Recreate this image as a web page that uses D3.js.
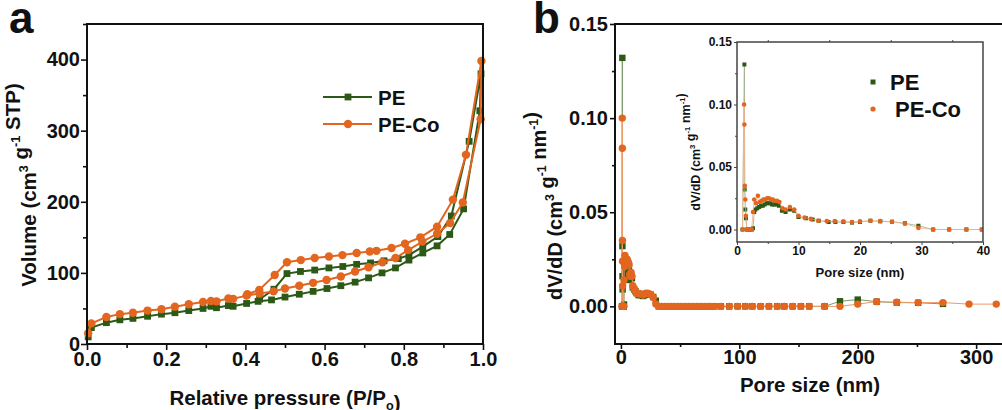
<!DOCTYPE html>
<html><head><meta charset="utf-8">
<script src="https://cdn.jsdelivr.net/npm/d3@7"></script>
<style>body{margin:0;background:#fff}</style>
</head><body><svg id="c" width="1002" height="410"></svg>
<script>
// ---------------- DATA ----------------
// Panel a: N2 isotherms (relative pressure, volume)
const peAdsP = [0.003,0.011,0.049,0.083,0.116,0.153,0.188,0.222,0.257,0.293,0.313,0.327,0.357,0.369,0.403,0.432,0.466,0.500,0.536,0.571,0.606,0.641,0.677,0.711,0.745,0.779,0.813,0.848,0.884,0.916,0.951,0.992,0.995];
const peAdsV = [10,23,30,34,36,39,42,44,47,50,53,51,54,53,57,60,62,66,70,74,78,82,87,93,100,107,118,128,138,154,190,328,380];
const peDesP = [0.965,0.920,0.886,0.848,0.813,0.786,0.750,0.716,0.681,0.646,0.611,0.575,0.539,0.505,0.472,0.436];
const peDesV = [285,180,151,137,125,120,117,114,112,109,107,104,102,99,77,63];
const coAdsP = [0.003,0.011,0.049,0.083,0.116,0.153,0.188,0.222,0.257,0.293,0.313,0.327,0.357,0.369,0.403,0.436,0.471,0.500,0.536,0.571,0.605,0.641,0.677,0.711,0.746,0.779,0.811,0.847,0.884,0.917,0.949,0.994,0.996];
const coAdsV = [15,29,38,42,44,47,49,52.5,56,59,60.5,60,64,63.5,68,71,74,78,82,86,90,95,102,108,115,121,132,144,155,170,199,316,398];
const coDesP = [0.957,0.924,0.884,0.842,0.803,0.769,0.731,0.714,0.681,0.645,0.611,0.575,0.540,0.505,0.474,0.435,0.405];
const coDesV = [266,203,165,150,141,135,131,130,128,125,123,121,118,115,97,76,70];
const aXTicks = [0,0.2,0.4,0.6,0.8,1.0];
const aYTicks = [0,100,200,300,400];

// Panel b: pore size distribution (pore size nm, dV/dD)
const peSize = [0.9,1.2,1.25,1.35,1.45,1.6,1.8,2.0,2.2,2.4,2.6,2.8,3.0,3.3,3.6,3.9,4.2,4.5,4.8,5.1,5.4,5.7,6.0,6.4,6.8,7.3,7.9,8.6,9.3,10.0,11.2,12.3,13.3,14.9,16.0,17.3,18.7,20.0,21.7,23.3,25.2,27.3,29.5,31.9,34.5,37.3,39.8,
  42.5,45.3,48.2,51.2,54.3,57.5,60.8,64.2,67.7,71.3,75.0,78.8,84.4,91.5,98.5,105,111,118,125,132,138,145,152,159,172,185,200,216,233,251,272];
const peDv = [0,0.132,0.032,0.016,0.009,0,0,0,0,0,0.001,0.014,0.016,0.017,0.018,0.019,0.019,0.020,0.021,0.021,0.021,0.020,0.020,0.020,0.019,0.015,0.014,0.016,0.015,0.010,0.009,0.008,0.007,0.006,0.006,0.006,0.0055,0.006,0.007,0.0065,0.0062,0.005,0.003,0,0,0,0,
  0,0,0,0,0,0,0,0,0,0,0,0,0,0,0,0,0,0,0,0,0,0,0,0,0,0.0027,0.0036,0.0025,0.002,0.0019,0.0013];
const coSize = [0.9,1.15,1.2,1.27,1.35,1.45,1.6,1.8,2.0,2.2,2.4,2.6,2.8,3.1,3.4,3.7,4.0,4.3,4.6,4.9,5.2,5.5,5.8,6.1,6.5,6.9,7.4,7.9,8.6,9.3,10.0,11.0,12.0,13.2,14.6,15.9,17.3,18.7,20.0,21.7,23.3,25.2,27.3,29.5,31.9,34.5,37.3,39.8,
  42.5,45.3,48.2,51.2,54.3,57.5,60.8,64.2,67.7,71.3,75.0,78.8,84.4,91.5,98.5,105,111,118,125,132,138,145,152,159,172,185,200,216,233,251,272,294,317];
const coDv = [0,0.100,0.084,0.035,0.024,0.011,0,0,0,0,0,0.014,0.024,0.021,0.027,0.022,0.023,0.024,0.024,0.025,0.025,0.024,0.024,0.023,0.023,0.022,0.017,0.016,0.018,0.016,0.011,0.0095,0.0085,0.007,0.0067,0.0067,0.0065,0.006,0.0065,0.007,0.0068,0.0062,0.0047,0.0013,0,0,0,0,
  0,0,0,0,0,0,0,0,0,0,0,0,0,0,0,0,0,0,0,0,0,0,0,0,0,0,0.0012,0.0025,0.0022,0.002,0.002,0.0012,0.0012];
const bXTicks = [0,100,200,300];
const bYTicks = [0,0.05,0.10,0.15];
const inXTicks = [0,10,20,30,40];
const inYTicks = [0,0.05,0.10,0.15];
const seriesNames = ["PE","PE-Co"];

// ---------------- DRAW ----------------
const FONT = 'Arial, "Liberation Sans", sans-serif';
const GREEN = "#2c5a16", ORANGE = "#e2661f";
const svg = d3.select("#c");
const zip = (a,b)=>a.map((v,i)=>[v,b[i]]);

function addAxes(g, xs, ys, o){
  const [x0,x1]=xs.range(), [y0,y1]=ys.range();
  const mk=(axis,tr)=>{const a=g.append("g").attr("transform",tr).call(axis); a.select(".domain").remove(); return a;};
  mk(d3.axisBottom(xs).tickValues(o.xMinor).tickSize(o.minor).tickFormat(""), `translate(0,${y0})`);
  const bx=mk(d3.axisBottom(xs).tickValues(o.xMajor).tickSize(o.major).tickPadding(o.xPad).tickFormat(o.xFmt), `translate(0,${y0})`);
  mk(d3.axisLeft(ys).tickValues(o.yMinor).tickSize(o.minor).tickFormat(""), `translate(${x0},0)`);
  const ly=mk(d3.axisLeft(ys).tickValues(o.yMajor).tickSize(o.major).tickPadding(o.yPad).tickFormat(o.yFmt), `translate(${x0},0)`);
  if(o.topTicks){ mk(d3.axisTop(xs).tickValues(o.topTicks).tickSize(o.minor).tickFormat(""), `translate(0,${y1})`); }
  g.selectAll(".tick line").attr("stroke",o.color).attr("stroke-width",o.tw);
  [bx,ly].forEach(a=>a.selectAll("text").attr("font-size",o.fs).attr("font-family",FONT).attr("font-weight","bold").attr("fill","#111"));
  g.append("rect").attr("x",x0).attr("y",y1).attr("width",x1-x0).attr("height",y0-y1)
    .attr("fill","none").attr("stroke",o.color).attr("stroke-width",o.fw);
}
function label(g, x, y, parts, fs, rot){
  const t=g.append("text").attr("transform",`translate(${x},${y})`+(rot?` rotate(${rot})`:""))
    .attr("text-anchor","middle").attr("font-family",FONT).attr("font-weight","bold").attr("font-size",fs).attr("fill","#111");
  parts.forEach(p=>{
    const s=t.append("tspan").text(p.t);
    if(p.sup){ s.attr("font-size",fs*0.62).attr("dy",-fs*0.4); t.append("tspan").attr("dy",fs*0.4).text(""); }
    if(p.sub){ s.attr("font-size",fs*0.62).attr("dy",fs*0.25); t.append("tspan").attr("dy",-fs*0.25).text(""); }
  });
  return t;
}
function squares(g, pts, xs, ys, s, fill){
  g.selectAll(null).data(pts).enter().append("rect")
    .attr("x",d=>xs(d[0])-s/2).attr("y",d=>ys(d[1])-s/2).attr("width",s).attr("height",s).attr("fill",fill);
}
function circles(g, pts, xs, ys, r, fill){
  g.selectAll(null).data(pts).enter().append("circle")
    .attr("cx",d=>xs(d[0])).attr("cy",d=>ys(d[1])).attr("r",r).attr("fill",fill);
}

// ===== Panel a =====
const ax = d3.scaleLinear().domain([0,1]).range([87,483]);
const ay = d3.scaleLinear().domain([0,450]).range([344,24]);
const ga = svg.append("g");
const peA = zip(peAdsP,peAdsV).concat(zip(peDesP,peDesV));
const coA = zip(coAdsP,coAdsV).concat(zip(coDesP,coDesV));
const lineA = d3.line().x(d=>ax(d[0])).y(d=>ay(d[1]));
ga.append("path").attr("d",lineA(peA)).attr("fill","none").attr("stroke",GREEN).attr("stroke-width",2);
squares(ga, peA, ax, ay, 6.8, GREEN);
ga.append("path").attr("d",lineA(coA)).attr("fill","none").attr("stroke",ORANGE).attr("stroke-width",2);
circles(ga, coA, ax, ay, 4.2, ORANGE);
addAxes(ga, ax, ay, {xMajor:aXTicks, xMinor:[0.1,0.3,0.5,0.7,0.9], yMajor:aYTicks, yMinor:[50,150,250,350,450],
  xFmt:d3.format(".1f"), yFmt:d3.format("d"), major:6, minor:4, xPad:2, yPad:1, fs:20, color:"#111", tw:1.6, fw:2});
// legend a
[[97,GREEN,"sq"],[124,ORANGE,"ci"]].forEach(([y,c,m],i)=>{
  ga.append("line").attr("x1",323).attr("x2",372).attr("y1",y).attr("y2",y).attr("stroke",c).attr("stroke-width",2);
  if(m==="sq") ga.append("rect").attr("x",348-3.4).attr("y",y-3.4).attr("width",6.8).attr("height",6.8).attr("fill",c);
  else ga.append("circle").attr("cx",348).attr("cy",y).attr("r",4.2).attr("fill",c);
  ga.append("text").attr("x",378).attr("y",y+7.5).attr("font-family",FONT).attr("font-weight","bold").attr("font-size",20.5).attr("fill","#111").text(seriesNames[i]);
});
label(ga, 285, 405, [{t:"Relative pressure (P/P"},{t:"o",sub:true},{t:")"}], 20.5);
label(ga, 36, 185, [{t:"Volume (cm"},{t:"3",sup:true},{t:" g"},{t:"-1",sup:true},{t:" STP)"}], 20.5, -90);
ga.append("text").attr("x",9).attr("y",33).attr("font-family",FONT).attr("font-weight","bold").attr("font-size",44).attr("fill","#111").text("a");

// ===== Panel b main =====
const bx = d3.scaleLinear().domain([-5,340]).range([615,1023.5]);
const by = d3.scaleLinear().domain([-0.02,0.15]).range([344,24]);
const gb = svg.append("g");
svg.append("defs").append("clipPath").attr("id","clipb").append("rect").attr("x",615).attr("y",24).attr("width",400).attr("height",320);
const gbd = gb.append("g").attr("clip-path","url(#clipb)");
const peB = zip(peSize,peDv), coB = zip(coSize,coDv);
const lineB = d3.line().x(d=>bx(d[0])).y(d=>by(d[1]));
gbd.append("path").attr("d",lineB(peB)).attr("fill","none").attr("stroke","#7d9866").attr("stroke-width",1);
squares(gbd, peB, bx, by, 6.4, GREEN);
gbd.append("path").attr("d",lineB(coB)).attr("fill","none").attr("stroke","#ef9a66").attr("stroke-width",1);
circles(gbd, coB, bx, by, 3.7, ORANGE);
addAxes(gb, bx, by, {xMajor:bXTicks, xMinor:[50,150,250], yMajor:bYTicks, yMinor:[0.025,0.075,0.125],
  xFmt:d3.format("d"), yFmt:d3.format(".2f"), major:5, minor:3, xPad:1, yPad:2, fs:20, color:"#111", tw:1.6, fw:2});
label(gb, 810, 392, [{t:"Pore size (nm)"}], 20.5);
label(gb, 562, 206, [{t:"dV/dD (cm"},{t:"3",sup:true},{t:" g"},{t:"-1",sup:true},{t:" nm"},{t:"-1",sup:true},{t:")"}], 20, -90);
gb.append("text").attr("x",533).attr("y",33).attr("font-family",FONT).attr("font-weight","bold").attr("font-size",44).attr("fill","#111").text("b");

// ===== Inset =====
const ix = d3.scaleLinear().domain([0,40]).range([737,983]);
const iy = d3.scaleLinear().domain([-0.01,0.15]).range([242,42]);
const gi = svg.append("g");
gi.append("rect").attr("x",737).attr("y",42).attr("width",246).attr("height",200).attr("fill","#fff");
svg.select("defs").append("clipPath").attr("id","clipi").append("rect").attr("x",737).attr("y",42).attr("width",246).attr("height",200);
const gid = gi.append("g").attr("clip-path","url(#clipi)");
const lineI = d3.line().x(d=>ix(d[0])).y(d=>iy(d[1]));
const peI = peB.filter(d=>d[0]<=41), coI = coB.filter(d=>d[0]<=41);
gid.append("path").attr("d",lineI(peI)).attr("fill","none").attr("stroke","#9aab88").attr("stroke-width",0.8);
squares(gid, peI, ix, iy, 4, GREEN);
gid.append("path").attr("d",lineI(coI)).attr("fill","none").attr("stroke","#f2b48a").attr("stroke-width",0.8);
circles(gid, coI, ix, iy, 2.3, ORANGE);
addAxes(gi, ix, iy, {xMajor:inXTicks, xMinor:[5,15,25,35], yMajor:inYTicks, yMinor:[0.025,0.075,0.125], topTicks:[5,15,25,35],
  xFmt:d3.format("d"), yFmt:d3.format(".2f"), major:3, minor:2, xPad:1, yPad:2, fs:12, color:"#444", tw:1, fw:1.5});
label(gi, 860, 277, [{t:"Pore size (nm)"}], 13);
label(gi, 700, 152, [{t:"dV/dD (cm"},{t:"3",sup:true},{t:" g"},{t:"-1",sup:true},{t:" nm"},{t:"-1",sup:true},{t:")"}], 12.5, -90);
gi.append("rect").attr("x",873-2.5).attr("y",82-2.5).attr("width",5).attr("height",5).attr("fill",GREEN);
gi.append("text").attr("x",890).attr("y",90).attr("font-family",FONT).attr("font-weight","bold").attr("font-size",22).attr("fill","#111").text(seriesNames[0]);
gi.append("circle").attr("cx",873).attr("cy",109).attr("r",2.6).attr("fill",ORANGE);
gi.append("text").attr("x",895).attr("y",117).attr("font-family",FONT).attr("font-weight","bold").attr("font-size",22).attr("fill","#111").text(seriesNames[1]);
</script></body></html>
